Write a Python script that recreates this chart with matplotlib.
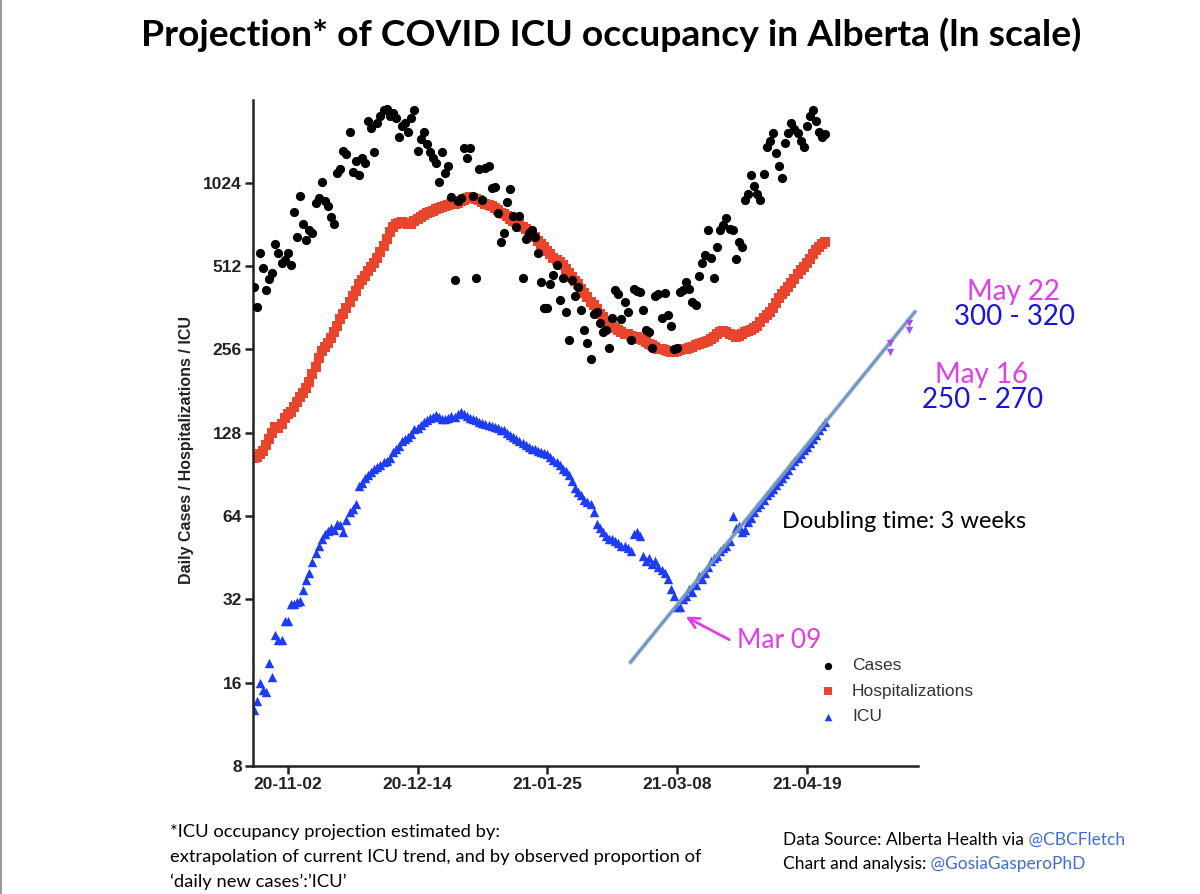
import matplotlib
matplotlib.use('Agg')
import matplotlib.dates as mdates
import pandas as pd
from matplotlib import pyplot as plt
from matplotlib.lines import Line2D
from matplotlib.ticker import NullLocator

W, H = 1200, 894

START = '2020-10-22'

# daily values, one per day from START
CASES = [
    431, 364, 570, 505, 420, 460, 482, 618, 570, 525,
    540, 570, 517, 802, 654, 920, 730, 636, 690, 675,
    865, 900, 1030, 880, 845, 770, 730, 1110, 1150, 1340,
    1300, 1560, 1120, 1230, 1090, 1260, 1210, 1720, 1620, 1320,
    1690, 1780, 1870, 1890, 1780, 1830, 1760, 1500, 1640, 1690,
    1560, 1750, 1870, 1340, 1480, 1560, 1420, 1320, 1260, 1210,
    1030, 1320, 1110, 1180, 910, 456, 880, 900, 1370, 1260,
    1370, 920, 464, 1150, 890, 1160, 1180, 980, 990, 800,
    625, 675, 870, 975, 780, 710, 780, 464, 640, 675,
    690, 654, 570, 447, 360, 360, 440, 475, 517, 385,
    464, 350, 278, 456, 400, 430, 355, 300, 271, 237,
    345, 350, 320, 295, 300, 260, 333, 420, 405, 330,
    380, 350, 278, 425, 418, 412, 355, 300, 295, 260,
    400, 405, 333, 408, 340, 310, 256, 260, 412, 420,
    447, 425, 380, 370, 470, 525, 560, 692, 550, 464,
    600, 692, 720, 765, 700, 692, 545, 625, 600, 890,
    935, 1090, 1000, 935, 890, 1100, 1380, 1450, 1550, 1310,
    1180, 1070, 1430, 1550, 1680, 1600, 1550, 1450, 1380, 1650,
    1780, 1870, 1720, 1560, 1500, 1540,
]

HOSP = [
    104, 105, 107, 110, 116, 122, 128, 134, 133, 138,
    145, 150, 152, 158, 165, 172, 178, 186, 196, 208,
    222, 238, 252, 262, 270, 282, 296, 310, 330, 345,
    362, 380, 398, 418, 440, 455, 470, 490, 508, 525,
    548, 575, 605, 640, 680, 708, 725, 735, 740, 732,
    728, 730, 745, 760, 772, 785, 795, 805, 812, 822,
    830, 840, 848, 852, 858, 862, 868, 878, 890, 900,
    908, 905, 895, 885, 870, 862, 855, 848, 830, 815,
    800, 788, 775, 760, 748, 738, 725, 712, 700, 685,
    668, 650, 632, 615, 598, 580, 565, 550, 540, 528,
    515, 500, 485, 468, 452, 440, 425, 410, 395, 380,
    370, 358, 345, 335, 325, 318, 312, 305, 300, 295,
    292, 290, 287, 285, 283, 280, 276, 272, 268, 265,
    262, 258, 256, 254, 252, 250, 250, 252, 255, 257,
    258, 260, 262, 265, 268, 270, 272, 275, 280, 285,
    290, 295, 298, 296, 292, 288, 285, 286, 290, 295,
    298, 300, 305, 312, 322, 332, 340, 350, 362, 378,
    392, 405, 418, 430, 445, 460, 478, 495, 510, 525,
    545, 565, 585, 600, 615, 625,
]

ICU = [
    12.8, 13.7, 16, 15, 14.8, 18.8, 16.8, 23.7, 22.9, 22.9,
    26.8, 26.8, 30.9, 30.9, 31.2, 31.6, 34.7, 37.6, 40, 43.5,
    47, 50, 53, 55, 56.6, 58, 57, 60, 59.5, 56,
    62, 66, 68, 71, 82, 84, 88, 90, 92, 95,
    96, 98, 100, 101, 104, 109, 112, 115, 120, 122,
    124, 127, 132, 133, 136, 140, 142, 145, 146, 148,
    146, 144, 143, 145, 147, 146, 150, 152, 150, 147,
    145, 143, 142, 140, 139, 138, 137, 135, 134, 133,
    131, 131, 128, 126, 124, 122, 120, 118, 116, 114,
    112, 112, 110, 109, 108, 107, 105, 102, 100, 98,
    95, 93, 90, 86, 81, 78, 76, 73, 72, 71,
    66, 60, 58, 56, 54, 53, 53, 52, 51, 50,
    50, 49, 48, 55, 56, 54, 46, 44, 45, 43,
    44, 42, 41, 40, 38, 35, 33, 30, 30, 32,
    33, 35, 34, 36, 39, 38, 40, 42, 44, 45,
    46, 48, 49, 50, 52, 64, 58, 59, 56, 57,
    61, 63, 66, 69, 71, 73, 76, 78, 80, 83,
    86, 88, 91, 94, 98, 101, 104, 107, 111, 114,
    118, 122, 126, 131, 135, 140,
]

# doubling-time trend line (end points) and the projected ICU ranges
FIT_DATES = ['2021-02-21', '2021-05-24']
FIT_VALUES = [19, 350]
PROJ_DATES = ['2021-05-16', '2021-05-16', '2021-05-22', '2021-05-22']
PROJ_VALUES = [250, 270, 300, 320]

X_TICKS = ['2020-11-02', '2020-12-14', '2021-01-25', '2021-03-08', '2021-04-19']
Y_TICKS = [8, 16, 32, 64, 128, 256, 512, 1024]

MAGENTA = '#e03ee6'
TEXT_BLUE = '#1616d8'
LINK_BLUE = '#3f6fd0'


def fpos(x, y):
    return x / W, 1 - y / H


fig = plt.figure(figsize=(W / 100, H / 100), dpi=100)
ax = fig.add_axes([253 / W, 1 - 766 / H, 665 / W, 666 / H])

dates = pd.date_range(START, periods=len(CASES), freq='D')
ax.scatter(dates, HOSP, s=52, marker='s', color='#e8452c', lw=0, label='Hospitalizations', zorder=2)
ax.scatter(dates, ICU, s=46, marker='^', color='#1f3cf5', lw=0, label='ICU', zorder=2)
ax.scatter(dates, CASES, s=44, marker='o', color='black', lw=0, label='Cases', zorder=3)
ax.plot(pd.to_datetime(FIT_DATES), FIT_VALUES, color='#9aa4ae', lw=3.4, alpha=0.5, zorder=4)
ax.plot(pd.to_datetime(FIT_DATES), FIT_VALUES, color='#6d98c6', lw=2.0, zorder=4)
ax.scatter(pd.to_datetime(PROJ_DATES), PROJ_VALUES, marker='v', s=28, color='#a052f0', lw=0, zorder=5)

ax.set_yscale('log', base=2)
ax.set_ylim(8, 2040)
ax.set_yticks(Y_TICKS)
ax.set_yticklabels([str(v) for v in Y_TICKS])
ax.yaxis.set_minor_locator(NullLocator())
ax.set_xlim(pd.Timestamp('2020-10-21 18:00'), pd.Timestamp('2021-05-25'))
ax.set_xticks(pd.to_datetime(X_TICKS))
ax.xaxis.set_major_formatter(mdates.DateFormatter('%y-%m-%d'))
ax.xaxis.set_minor_locator(NullLocator())

for side in ['top', 'right']:
    ax.spines[side].set_visible(False)
for side in ['left', 'bottom']:
    ax.spines[side].set_linewidth(1.8)
    ax.spines[side].set_color('#222222')
ax.tick_params(length=6, width=1.8, color='#222222', pad=2, labelcolor='#222222')
for lab in ax.get_xticklabels() + ax.get_yticklabels():
    lab.set_family('Liberation Sans')
    lab.set_fontweight('bold')
    lab.set_fontsize(12.5)

ax.set_ylabel('Daily Cases / Hospitalizations / ICU', fontsize=11.5, fontweight='bold',
              family='Liberation Sans', color='#222222')
ax.yaxis.set_label_coords(-0.088, 0.474)

handles, labels = ax.get_legend_handles_labels()
order = [labels.index(n) for n in ['Cases', 'Hospitalizations', 'ICU']]
ax.legend([handles[i] for i in order], [labels[i] for i in order],
          loc='upper left', bbox_to_anchor=fpos(819, 658), bbox_transform=fig.transFigure,
          frameon=False, prop={'family': 'Liberation Sans', 'size': 12.5},
          handletextpad=0.9, labelspacing=0.6, borderpad=0, borderaxespad=0,
          handlelength=1.0, markerscale=0.8, scatterpoints=1, labelcolor='#333333')

ax.annotate('Mar 09', xy=(mdates.date2num(pd.Timestamp('2021-03-10')), 28), xycoords='data',
            xytext=fpos(737, 640), textcoords='figure fraction', ha='left', va='center',
            fontsize=19, color=MAGENTA, family='Lato',
            arrowprops=dict(arrowstyle='->', color=MAGENTA, lw=2, shrinkA=4, shrinkB=2,
                            relpos=(0, 0.35)))

fig.text(*fpos(1013, 292), 'May 22', ha='center', va='center', fontsize=20, color=MAGENTA, family='Lato')
fig.text(*fpos(1015, 317), '300 - 320', ha='center', va='center', fontsize=20, color=TEXT_BLUE, family='Lato')
fig.text(*fpos(982, 375), 'May 16', ha='center', va='center', fontsize=20, color=MAGENTA, family='Lato')
fig.text(*fpos(983, 400), '250 - 270', ha='center', va='center', fontsize=20, color=TEXT_BLUE, family='Lato')
fig.text(*fpos(782, 522), 'Doubling time: 3 weeks', ha='left', va='center', fontsize=17, color='black', family='Lato')

fig.text(*fpos(611, 35), 'Projection* of COVID ICU occupancy in Alberta (ln scale)', ha='center', va='center',
         fontsize=26.8, fontweight='bold', color='black', family='Lato')

note = ['*ICU occupancy projection estimated by:',
        'extrapolation of current ICU trend, and by observed proportion of',
        '\u2018daily new cases\u2019:\u2019ICU\u2019']
for i, line in enumerate(note):
    fig.text(*fpos(170, 832 + 25 * i), line, ha='left', va='center', fontsize=13.2, family='Lato', color='black')

src = [('Data Source: Alberta Health via', ' @CBCFletch'),
       ('Chart and analysis:', ' @GosiaGasperoPhD')]
for i, (plain, handle) in enumerate(src):
    t = fig.text(*fpos(783, 840 + 24 * i), plain, ha='left', va='center', fontsize=12.5, family='Lato', color='black')
    ax.annotate(handle, xy=(1, 0), xycoords=t, ha='left', va='bottom', fontsize=12.5,
                family='Lato', color=LINK_BLUE, annotation_clip=False)

fig.add_artist(Line2D([0.001, 0.001], [0, 1], color='#9a9a9a', lw=1.5, transform=fig.transFigure))

fig.savefig('out.png', dpi=100)
